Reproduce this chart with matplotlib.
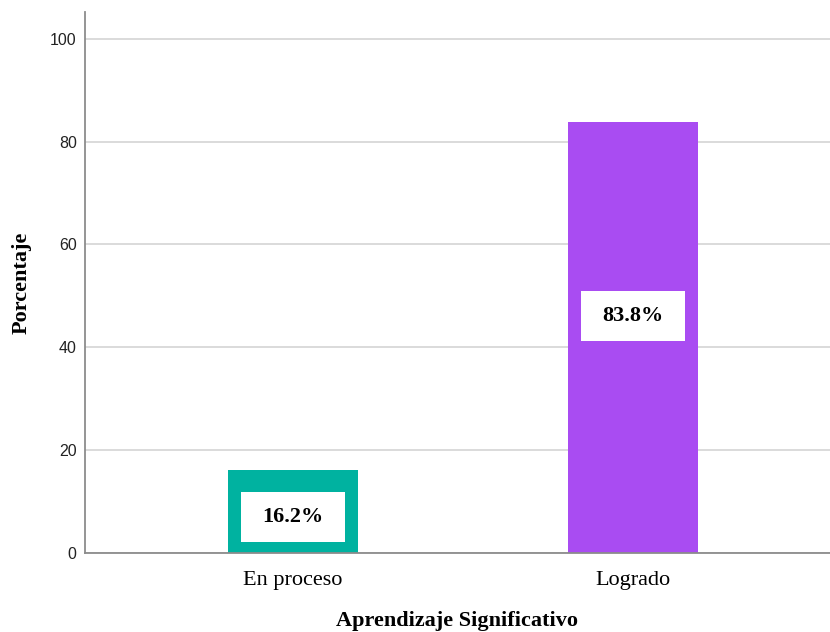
import matplotlib
matplotlib.use("Agg")
import matplotlib.pyplot as plt
from matplotlib.patches import Rectangle

categories = ["En proceso", "Logrado"]
values = [16.2, 83.8]
labels = ["16.2%", "83.8%"]
colors = ["#00b2a0", "#a94cf2"]
yticks = [0, 20, 40, 60, 80, 100]

fig = plt.figure(figsize=(8.3, 6.32), dpi=100)
ax = fig.add_axes([0.1024, 0.125, 0.8976, 0.856])
x = list(range(len(categories)))
ax.bar(x, values, width=0.382, color=colors, zorder=3)
ax.set_xlim(-0.612, 1.579)
ax.set_ylim(0, 105.2)
ax.set_yticks(yticks)
ax.set_xticks(x)
ax.set_xticklabels(categories, family="Liberation Serif", fontsize=16)
for t in ax.get_yticklabels():
    t.set_family("Liberation Sans")
    t.set_fontsize(11.5)
    t.set_color("#222222")
ax.tick_params(axis="both", length=0)
ax.tick_params(axis="y", pad=6)
ax.tick_params(axis="x", pad=13)
ax.grid(axis="y", color="#d4d4d4", linewidth=1.2, zorder=0)
for s in ["top", "right"]:
    ax.spines[s].set_visible(False)
for s in ["left", "bottom"]:
    ax.spines[s].set_color("#8c8c8c")
    ax.spines[s].set_linewidth(1.3)
    ax.spines[s].set_zorder(4)

box_w, box_h = 0.306, 9.7
for xi, v, lab in zip(x, values, labels):
    yc = 0.577 * v - 2.35
    ax.add_patch(Rectangle((xi - box_w / 2, yc - box_h / 2), box_w, box_h,
                           facecolor="white", edgecolor="none", zorder=4))
    ax.text(xi, yc, lab, ha="center", va="center", family="Liberation Serif",
            fontweight="bold", fontsize=16, zorder=5)

ax.set_xlabel("Aprendizaje Significativo", family="Liberation Serif",
              fontweight="bold", fontsize=16, labelpad=15)
ax.set_ylabel("Porcentaje", family="Liberation Serif", fontweight="bold",
              fontsize=16, labelpad=13)
fig.savefig("out.png", dpi=100)
